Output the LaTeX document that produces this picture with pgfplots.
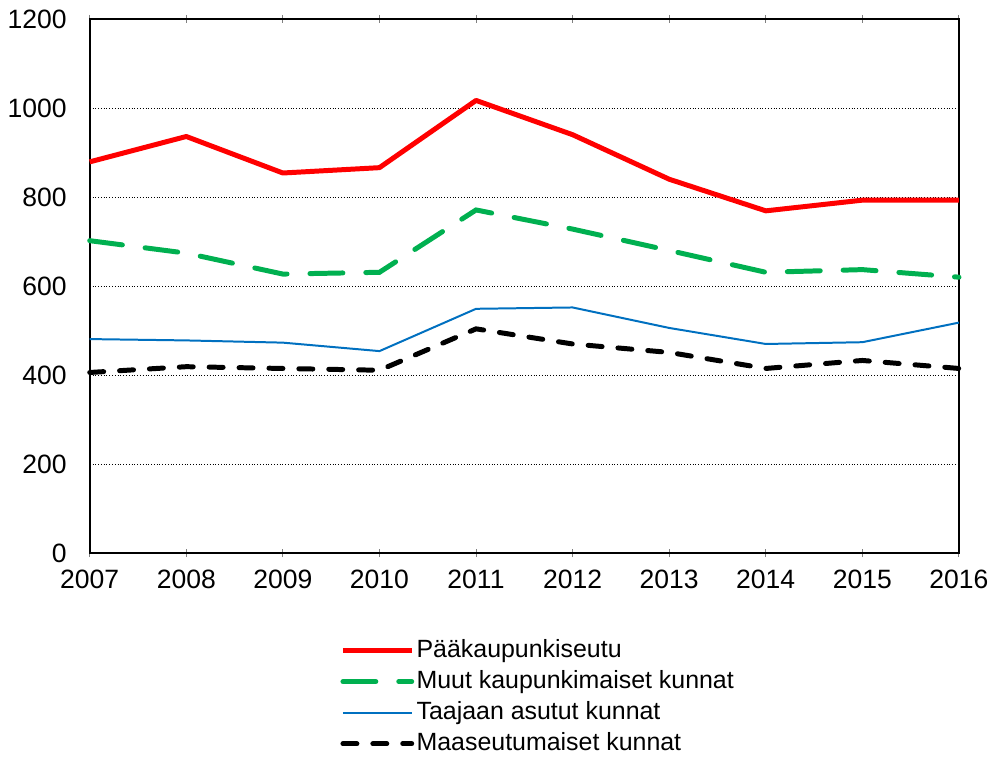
\documentclass[border=0pt]{standalone}
\usepackage{pgfplots}
\pgfplotsset{compat=1.18}
\usepackage{fontspec}
\setmainfont{Liberation Sans}
\usetikzlibrary{calc}
\begin{document}
\begin{tikzpicture}
\begin{axis}[
  name=ax,
  scale only axis,
  width=436pt, height=268pt,
  xmin=2007, xmax=2016, ymin=0, ymax=1200,
  xtick={2007,...,2016},
  ytick={0,200,...,1200},
  /pgf/number format/assume math mode=true,
  /pgf/number format/1000 sep={},
  ticklabel style={font=\fontsize{13.3}{15}\selectfont},
  xticklabel style={yshift=-3pt},
  yticklabel style={xshift=-8pt},
  scaled ticks=false,
  xtick align=center,
  major tick length=4pt,
  xtick style={gray, line width=0.5pt},
  ytick style={draw=none},
  ymajorgrids,
  major grid style={densely dotted, black, line width=0.4pt},
  axis line style={black, line width=0.8pt},
  clip=false,
  legend cell align=left,
  legend style={draw=none, fill=none, at={(rel axis cs:0.288,-0.155)}, anchor=north west,
    font=\fontsize{12.5}{14}\selectfont, row sep=1.5pt, inner sep=0pt,
    nodes={inner sep=1.2pt, text height=9.2pt, text depth=2.5pt}},
  legend image code/.code={\draw[#1] (0pt,0pt) -- (34.5pt,0pt);},
]
\addplot[red, line width=2.5pt, line join=round] coordinates {
(2007,879) (2008,936) (2009,854) (2010,866) (2011,1017) (2012,940) (2013,840) (2014,769) (2015,793) (2016,793)};
\addlegendentry{Pääkaupunkiseutu}
\addplot[color={rgb,255:red,0;green,176;blue,80}, line width=2.5pt, line cap=round, dash pattern=on 16.5pt off 11.5pt] coordinates {
(2007,702) (2008,674) (2009,627) (2010,631) (2011,771) (2012,728) (2013,680) (2014,631) (2015,637) (2016,620)};
\addlegendentry{Muut kaupunkimaiset kunnat}
\addplot[color={rgb,255:red,0;green,112;blue,192}, line width=1pt] coordinates {
(2007,481) (2008,478) (2009,473) (2010,454) (2011,549) (2012,552) (2013,506) (2014,470) (2015,474) (2016,518)};
\addlegendentry{Taajaan asutut kunnat}
\addplot[black, line width=2.5pt, line cap=round, dash pattern=on 7pt off 8pt] coordinates {
(2007,406) (2008,419) (2009,415) (2010,411) (2011,504) (2012,470) (2013,451) (2014,415) (2015,433) (2016,415)};
\addlegendentry{Maaseutumaiset kunnat}
\end{axis}
\path[use as bounding box] ($(ax.south west)+(-45pt,-101.5pt)$) rectangle ($(ax.north east)+(16.5pt,9.5pt)$);
\end{tikzpicture}
\end{document}
